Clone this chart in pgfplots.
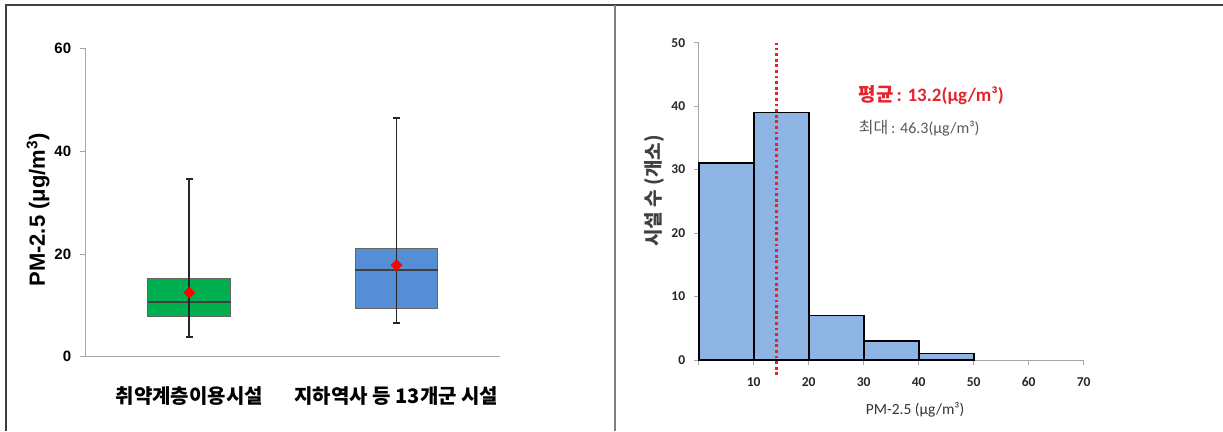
\documentclass[border=0pt]{standalone}
\usepackage{fontspec}
\usepackage{pgfplots}
\pgfplotsset{compat=1.18}
\setmainfont{Liberation Sans}
\newfontfamily\cjk{Noto Sans CJK KR}
\newfontfamily\calib{Carlito}
\definecolor{boxgreen}{HTML}{00B050}
\definecolor{boxblue}{HTML}{558ED5}
\definecolor{histblue}{HTML}{8DB4E2}
\definecolor{meanred}{HTML}{E3242B}
\begin{document}
\begin{tikzpicture}
\path[use as bounding box] (0,0) rectangle (1223pt,431pt);
% ---------- left panel: box plots ----------
\begin{axis}[
  at={(85.7pt,74.3pt)}, anchor=south west,
  scale only axis, width=414.3pt, height=308.4pt,
  xmin=0.5, xmax=2.5, ymin=0, ymax=60,
  axis x line*=bottom, axis y line*=left,
  axis line style={draw=black!35, line width=0.8pt, -},
  xtick={1,2}, xticklabels={취약계층이용시설, 지하역사 등 13개군 시설},
  x tick style={draw=none},
  xticklabel style={font=\cjk\bfseries\fontsize{20}{22}\selectfont, anchor=center, yshift=-33pt, inner sep=0pt},
  ytick={0,20,40,60},
  y tick style={draw=black!35, line width=0.8pt},
  tick align=outside, major tick length=6pt,
  yticklabel style={font=\bfseries\fontsize{15}{16}\selectfont, xshift=-5pt, /pgf/number format/assume math mode=true},
  ylabel={\bfseries PM-2.5 (μg/m\textsuperscript{3})},
  ylabel style={font=\fontsize{22}{24}\selectfont, at={(rel axis cs:0,0.476)}, anchor=center, yshift=47.7pt},
  clip=false,
]
% boxes (lower quartile to upper quartile), box half-width 0.2
\addplot[fill=boxgreen, draw=black!60, line width=0.9pt] coordinates {(0.8,7.8) (1.2,7.8) (1.2,15.25) (0.8,15.25)} -- cycle;
\addplot[fill=boxblue, draw=black!60, line width=0.9pt] coordinates {(1.8,9.4) (2.2,9.4) (2.2,21.0) (1.8,21.0)} -- cycle;
% medians
\addplot[draw=black!75, line width=1.6pt] coordinates {(0.8,10.7) (1.2,10.7)};
\addplot[draw=black!75, line width=1.6pt] coordinates {(1.8,16.9) (2.2,16.9)};
% whiskers (min to max)
\addplot[black!85, line width=1.8pt, mark=-, mark size=3.5pt, mark options={line width=2pt}] coordinates {(1,3.8) (1,34.6)};
\addplot[black!85, line width=1.8pt, mark=-, mark size=3.5pt, mark options={line width=2pt}] coordinates {(2,6.6) (2,46.4)};
% means
\addplot[only marks, mark=square*, mark size=3.9pt, mark options={rotate=45, fill=red, draw=red}] coordinates {(1,12.45) (2,17.8)};
\end{axis}
% ---------- right panel: histogram ----------
\begin{axis}[
  at={(698.7pt,71pt)}, anchor=south west,
  scale only axis, width=385pt, height=317.3pt,
  xmin=0, xmax=70, ymin=0, ymax=50,
  axis x line*=bottom, axis y line*=left,
  axis line style={draw=black!35, line width=0.8pt, -},
  xtick={0,10,...,70}, xticklabels={,10,20,30,40,50,60,70},
  ytick={0,10,...,50},
  tick align=outside, major tick length=5pt,
  tick style={draw=black!35, line width=0.8pt},
  ticklabel style={font=\calib\bfseries\fontsize{13.5}{15}\selectfont, text=black!85, /pgf/number format/assume math mode=true},
  xticklabel style={yshift=-9pt},
  yticklabel style={xshift=-5pt},
  xlabel={PM-2.5 (μg/m³)},
  xlabel style={font=\calib\fontsize{15.5}{17}\selectfont, text=black!80, at={(rel axis cs:0.562,0)}, anchor=center, yshift=-50pt},
  ylabel={시설 수 (개소)},
  ylabel style={font=\cjk\bfseries\fontsize{19}{21}\selectfont, text=black!75, at={(rel axis cs:0,0.533)}, anchor=center, yshift=44pt},
  clip=false,
]
\addplot[ybar interval, fill=histblue, draw=black, line width=1.6pt] coordinates {(0,31) (10,39) (20,7) (30,3) (40,1) (50,1)};
\addplot[meanred, line width=3.2pt, dash pattern=on 2.8pt off 2.8pt] coordinates {(14.2,-2.4) (14.2,50)};
\end{axis}
\node[anchor=west, inner sep=0pt, text=meanred] at (858.7pt,336pt) {{\cjk\bfseries\fontsize{19}{21}\selectfont 평균} {\calib\bfseries\fontsize{19}{21}\selectfont : 13.2(μg/m³)}};
\node[anchor=west, inner sep=0pt, text=black!65] at (858.7pt,303pt) {{\cjk\fontsize{16}{18}\selectfont 최대} {\calib\fontsize{16}{18}\selectfont : 46.3(μg/m³)}};
% ---------- frame ----------
\draw[line width=2pt, black!75] (5.5pt,0pt) -- (5.5pt,425.5pt) -- (1223pt,425.5pt);
\draw[line width=1.8pt, black!50] (615pt,425.5pt) -- (615pt,0pt);
\end{tikzpicture}
\end{document}
